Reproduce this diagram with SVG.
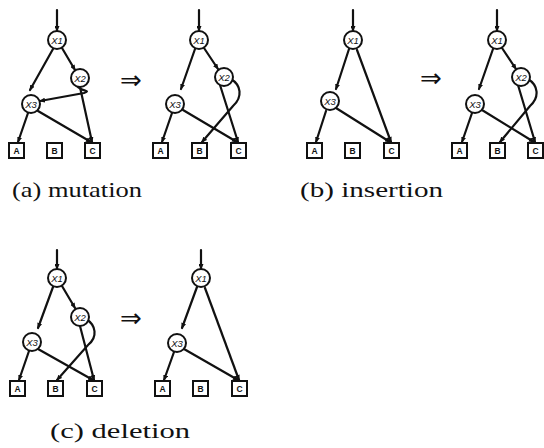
<svg xmlns="http://www.w3.org/2000/svg" width="544" height="448" viewBox="0 0 544 448">
  <style>
    .edge { fill: none; stroke: #111; stroke-width: 2.2; stroke-linecap: round; }
    .node circle { fill: #fff; stroke: #111; stroke-width: 2; }
    .node rect { fill: #fff; stroke: #111; stroke-width: 2; }
    .vlbl { font-family: "Liberation Sans", Arial, sans-serif; font-style: italic; font-size: 9.5px; fill: #111; text-anchor: middle; }
    .tlbl { font-family: "Liberation Sans", Arial, sans-serif; font-weight: bold; font-size: 8.5px; fill: #111; text-anchor: middle; }
    .imp { font-family: "DejaVu Sans", sans-serif; font-size: 26px; fill: #111; text-anchor: middle; }
    .cap { font-family: "Liberation Serif", "Times New Roman", serif; font-size: 21px; fill: #111; }
  </style>
  <defs>
    <marker id="ah" markerUnits="userSpaceOnUse" markerWidth="6" markerHeight="5" refX="5" refY="2.5" orient="auto">
      <path d="M0,0 L6,2.5 L0,5 z" fill="#111"/>
    </marker>
  </defs>

  <!-- connectors -->
  <g id="connectors" class="edge" marker-end="url(#ah)">
    <!-- (a) mutation, before -->
    <line x1="57" y1="10" x2="57" y2="31"/>
    <line x1="53" y1="49" x2="30" y2="90"/>
    <line x1="62" y1="48" x2="75" y2="70"/>
    <path d="M77 86 C82 92, 92 90, 84 93 L40 101"/>
    <line x1="80" y1="87" x2="92" y2="142"/>
    <line x1="28" y1="113" x2="18" y2="142"/>
    <line x1="38" y1="111" x2="91" y2="142"/>
    <!-- (a) mutation, after -->
    <line x1="199" y1="10" x2="199" y2="31"/>
    <line x1="195" y1="49" x2="181" y2="89"/>
    <line x1="204" y1="48" x2="218" y2="69"/>
    <line x1="220" y1="85" x2="238" y2="142"/>
    <path d="M231 79 C241 85, 243 97, 233 106 L202 142"/>
    <line x1="172" y1="113" x2="162" y2="142"/>
    <line x1="183" y1="110" x2="237" y2="142"/>
    <!-- (b) insertion, before -->
    <line x1="353" y1="10" x2="353" y2="31"/>
    <line x1="349" y1="49" x2="336" y2="89"/>
    <line x1="357" y1="50" x2="391" y2="142"/>
    <line x1="326" y1="111" x2="316" y2="142"/>
    <line x1="336" y1="108" x2="390" y2="142"/>
    <!-- (b) insertion, after -->
    <line x1="497" y1="10" x2="497" y2="31"/>
    <line x1="493" y1="49" x2="479" y2="89"/>
    <line x1="502" y1="48" x2="516" y2="69"/>
    <line x1="518" y1="85" x2="535" y2="142"/>
    <path d="M528 79 C538 85, 540 97, 530 106 L500 142"/>
    <line x1="472" y1="113" x2="462" y2="142"/>
    <line x1="482" y1="110" x2="534" y2="142"/>
    <!-- (c) deletion, before -->
    <line x1="57" y1="250" x2="57" y2="269"/>
    <line x1="53" y1="287" x2="38" y2="328"/>
    <line x1="62" y1="286" x2="75" y2="308"/>
    <line x1="80" y1="326" x2="94" y2="380"/>
    <path d="M86 319 C96 325, 98 337, 88 345 L57 380"/>
    <line x1="29" y1="351" x2="19" y2="380"/>
    <line x1="38" y1="349" x2="93" y2="380"/>
    <!-- (c) deletion, after -->
    <line x1="201" y1="250" x2="201" y2="269"/>
    <line x1="197" y1="287" x2="182" y2="328"/>
    <line x1="205" y1="288" x2="239" y2="380"/>
    <line x1="174" y1="352" x2="164" y2="380"/>
    <line x1="184" y1="349" x2="238" y2="380"/>
  </g>

  <!-- (a) mutation, before -->
  <g id="a1-x1" class="node"><circle cx="57" cy="40" r="9"/><text class="vlbl" x="57" y="43.5">X1</text></g>
  <g id="a1-x2" class="node"><circle cx="80" cy="78" r="9"/><text class="vlbl" x="80" y="81.5">X2</text></g>
  <g id="a1-x3" class="node"><circle cx="31" cy="104" r="9"/><text class="vlbl" x="31" y="107.5">X3</text></g>
  <g id="a1-a" class="node"><rect x="9" y="143" width="15" height="15"/><text class="tlbl" x="16.5" y="153.5">A</text></g>
  <g id="a1-b" class="node"><rect x="47" y="143" width="15" height="15"/><text class="tlbl" x="54.5" y="153.5">B</text></g>
  <g id="a1-c" class="node"><rect x="85" y="143" width="15" height="15"/><text class="tlbl" x="92.5" y="153.5">C</text></g>
  <text class="imp" x="131" y="89">⇒</text>

  <!-- (a) mutation, after -->
  <g id="a2-x1" class="node"><circle cx="199" cy="40" r="9"/><text class="vlbl" x="199" y="43.5">X1</text></g>
  <g id="a2-x2" class="node"><circle cx="224" cy="77" r="9"/><text class="vlbl" x="224" y="80.5">X2</text></g>
  <g id="a2-x3" class="node"><circle cx="175" cy="104" r="9"/><text class="vlbl" x="175" y="107.5">X3</text></g>
  <g id="a2-a" class="node"><rect x="153" y="143" width="15" height="15"/><text class="tlbl" x="160.5" y="153.5">A</text></g>
  <g id="a2-b" class="node"><rect x="192" y="143" width="15" height="15"/><text class="tlbl" x="199.5" y="153.5">B</text></g>
  <g id="a2-c" class="node"><rect x="231" y="143" width="15" height="15"/><text class="tlbl" x="238.5" y="153.5">C</text></g>

  <!-- (b) insertion, before -->
  <g id="b1-x1" class="node"><circle cx="353" cy="40" r="9"/><text class="vlbl" x="353" y="43.5">X1</text></g>
  <g id="b1-x3" class="node"><circle cx="330" cy="101" r="9"/><text class="vlbl" x="330" y="104.5">X3</text></g>
  <g id="b1-a" class="node"><rect x="307" y="143" width="15" height="15"/><text class="tlbl" x="314.5" y="153.5">A</text></g>
  <g id="b1-b" class="node"><rect x="345" y="143" width="15" height="15"/><text class="tlbl" x="352.5" y="153.5">B</text></g>
  <g id="b1-c" class="node"><rect x="384" y="143" width="15" height="15"/><text class="tlbl" x="391.5" y="153.5">C</text></g>
  <text class="imp" x="431" y="87">⇒</text>

  <!-- (b) insertion, after -->
  <g id="b2-x1" class="node"><circle cx="497" cy="40" r="9"/><text class="vlbl" x="497" y="43.5">X1</text></g>
  <g id="b2-x2" class="node"><circle cx="521" cy="77" r="9"/><text class="vlbl" x="521" y="80.5">X2</text></g>
  <g id="b2-x3" class="node"><circle cx="475" cy="104" r="9"/><text class="vlbl" x="475" y="107.5">X3</text></g>
  <g id="b2-a" class="node"><rect x="452" y="143" width="15" height="15"/><text class="tlbl" x="459.5" y="153.5">A</text></g>
  <g id="b2-b" class="node"><rect x="490" y="143" width="15" height="15"/><text class="tlbl" x="497.5" y="153.5">B</text></g>
  <g id="b2-c" class="node"><rect x="528" y="143" width="15" height="15"/><text class="tlbl" x="535.5" y="153.5">C</text></g>

  <!-- (c) deletion, before -->
  <g id="c1-x1" class="node"><circle cx="57" cy="278" r="9"/><text class="vlbl" x="57" y="281.5">X1</text></g>
  <g id="c1-x2" class="node"><circle cx="80" cy="317" r="9"/><text class="vlbl" x="80" y="320.5">X2</text></g>
  <g id="c1-x3" class="node"><circle cx="32" cy="342" r="9"/><text class="vlbl" x="32" y="345.5">X3</text></g>
  <g id="c1-a" class="node"><rect x="10" y="381" width="15" height="15"/><text class="tlbl" x="17.5" y="391.5">A</text></g>
  <g id="c1-b" class="node"><rect x="48" y="381" width="15" height="15"/><text class="tlbl" x="55.5" y="391.5">B</text></g>
  <g id="c1-c" class="node"><rect x="87" y="381" width="15" height="15"/><text class="tlbl" x="94.5" y="391.5">C</text></g>
  <text class="imp" x="131" y="327">⇒</text>

  <!-- (c) deletion, after -->
  <g id="c2-x1" class="node"><circle cx="201" cy="278" r="9"/><text class="vlbl" x="201" y="281.5">X1</text></g>
  <g id="c2-x3" class="node"><circle cx="177" cy="343" r="9"/><text class="vlbl" x="177" y="346.5">X3</text></g>
  <g id="c2-a" class="node"><rect x="155" y="381" width="15" height="15"/><text class="tlbl" x="162.5" y="391.5">A</text></g>
  <g id="c2-b" class="node"><rect x="193" y="381" width="15" height="15"/><text class="tlbl" x="200.5" y="391.5">B</text></g>
  <g id="c2-c" class="node"><rect x="232" y="381" width="15" height="15"/><text class="tlbl" x="239.5" y="391.5">C</text></g>

  <!-- captions -->
  <text class="cap" x="12" y="197" textLength="130" lengthAdjust="spacingAndGlyphs">(a) mutation</text>
  <text class="cap" x="300" y="197" textLength="143" lengthAdjust="spacingAndGlyphs">(b) insertion</text>
  <text class="cap" x="50" y="438" textLength="140" lengthAdjust="spacingAndGlyphs">(c) deletion</text>
</svg>
